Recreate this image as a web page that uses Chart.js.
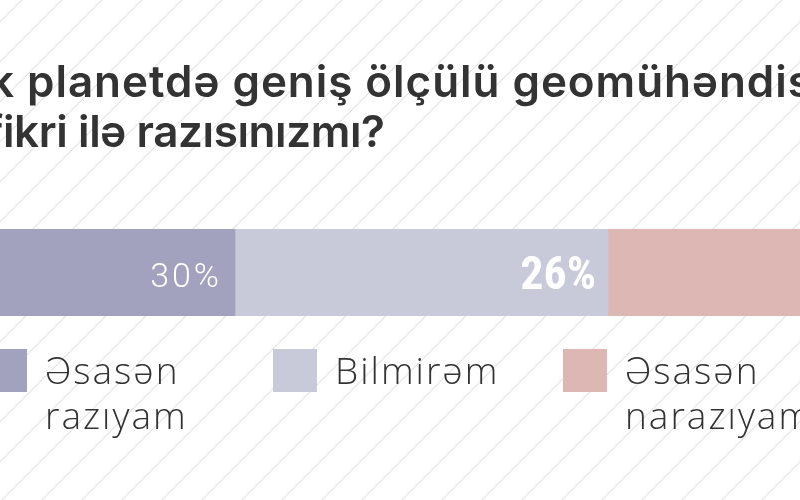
<!DOCTYPE html>
<html>
<head>
<meta charset="utf-8">
<script src="https://cdn.jsdelivr.net/npm/chart.js@4.4.0/dist/chart.umd.min.js"></script>
<style>
  html, body { margin: 0; padding: 0; width: 800px; height: 500px; overflow: hidden; background: #fff; }
  #wrap { position: relative; width: 800px; height: 500px; overflow: hidden; }
  #c { position: absolute; left: 0; top: 0; }
  .title { position: absolute; white-space: nowrap; font-family: "Inter", "Lato", sans-serif; font-weight: 600; font-size: 44px; color: #333; line-height: 1; }
  .leg { position: absolute; top: 349px; display: flex; align-items: flex-start; }
  .sw { width: 44px; height: 43px; flex: none; }
  .lt { margin-left: 18px; margin-top: -2px; font-family: "Open Sans", "Lato", sans-serif; font-weight: 300; font-size: 37px; letter-spacing: 2px; line-height: 45px; color: #333; white-space: nowrap; }
</style>
</head>
<body>
<div id="wrap">
  <canvas id="c" width="800" height="500"></canvas>
  <div class="title" id="t1" style="left:-11px; top:59px; letter-spacing:0.95px;">k planetdə geniş ölçülü geomühəndislik</div>
  <div class="title" id="t2" style="left:-14px; top:109px; letter-spacing:-0.4px;">fikri ilə razısınızmı?</div>
  <div id="legend"></div>
</div>
<script>
// ---- data ----
const categories = ["Sual"];
const seriesLabels = ["Əsasən razıyam", "Bilmirəm", "Əsasən narazıyam"];
const seriesValues = [30, 26, 44];
const valueLabels = ["30%", "26%", "44%"];

// ---- styles (kept separate from data) ----
const seriesColors = ["#a2a2bf", "#c8cada", "#ddb7b4"];
const labelFonts = ["300 34px Roboto, Lato, sans-serif", "bold 46px 'Roboto Condensed', Roboto, sans-serif", "bold 46px 'Roboto Condensed', Roboto, sans-serif"];
const legendLines = [["Əsasən", "razıyam"], ["Bilmirəm"], ["Əsasən", "narazıyam"]];

// legend built from series arrays
const legend = document.getElementById('legend');
seriesLabels.forEach((lab, i) => {
  const d = document.createElement('div');
  d.className = 'leg';
  d.style.left = (-17 + i * 290) + 'px';
  const sw = document.createElement('div');
  sw.className = 'sw';
  sw.style.background = seriesColors[i];
  const t = document.createElement('div');
  t.className = 'lt';
  t.innerHTML = legendLines[i].join('<br>');
  t.title = lab;
  d.appendChild(sw); d.appendChild(t);
  legend.appendChild(d);
});

const hatch = {
  id: 'hatch',
  beforeDraw(chart) {
    const ctx = chart.ctx;
    ctx.save();
    ctx.fillStyle = '#ffffff';
    ctx.fillRect(0, 0, chart.width, chart.height);
    ctx.strokeStyle = '#d6d6d6';
    ctx.lineWidth = 1;
    ctx.beginPath();
    for (let c = 21.7; c < chart.width + chart.height + 40; c += 40) {
      ctx.moveTo(c, 0);
      ctx.lineTo(c - chart.height, chart.height);
    }
    ctx.stroke();
    ctx.restore();
  }
};

const valueLabelPlugin = {
  id: 'valueLabels',
  afterDatasetsDraw(chart) {
    const ctx = chart.ctx;
    ctx.save();
    chart.data.datasets.forEach((ds, i) => {
      const el = chart.getDatasetMeta(i).data[0];
      if (!el) return;
      ctx.font = labelFonts[i];
      ctx.fillStyle = '#ffffff';
      ctx.textAlign = 'right';
      ctx.textBaseline = 'alphabetic';
      if (ctx.letterSpacing !== undefined) ctx.letterSpacing = i === 0 ? '3px' : '0px';
      const off = i === 0 ? 13 : 12;
      ctx.fillText(valueLabels[i], el.x - off, el.y + (i === 0 ? 14 : 16));
    });
    ctx.restore();
  }
};

new Chart(document.getElementById('c'), {
  type: 'bar',
  data: {
    labels: categories,
    datasets: seriesLabels.map((lab, i) => ({
      label: lab,
      data: [seriesValues[i]],
      backgroundColor: seriesColors[i],
      borderWidth: 0,
      barPercentage: 1,
      categoryPercentage: 1
    }))
  },
  options: {
    indexAxis: 'y',
    responsive: false,
    animation: false,
    layout: { padding: { top: 229, bottom: 184, left: 0, right: 0 } },
    scales: {
      x: { stacked: true, min: 13.62, max: 69.38, display: false },
      y: { stacked: true, display: false }
    },
    plugins: { legend: { display: false }, tooltip: { enabled: false } }
  },
  plugins: [hatch, valueLabelPlugin]
});
</script>
</body>
</html>
